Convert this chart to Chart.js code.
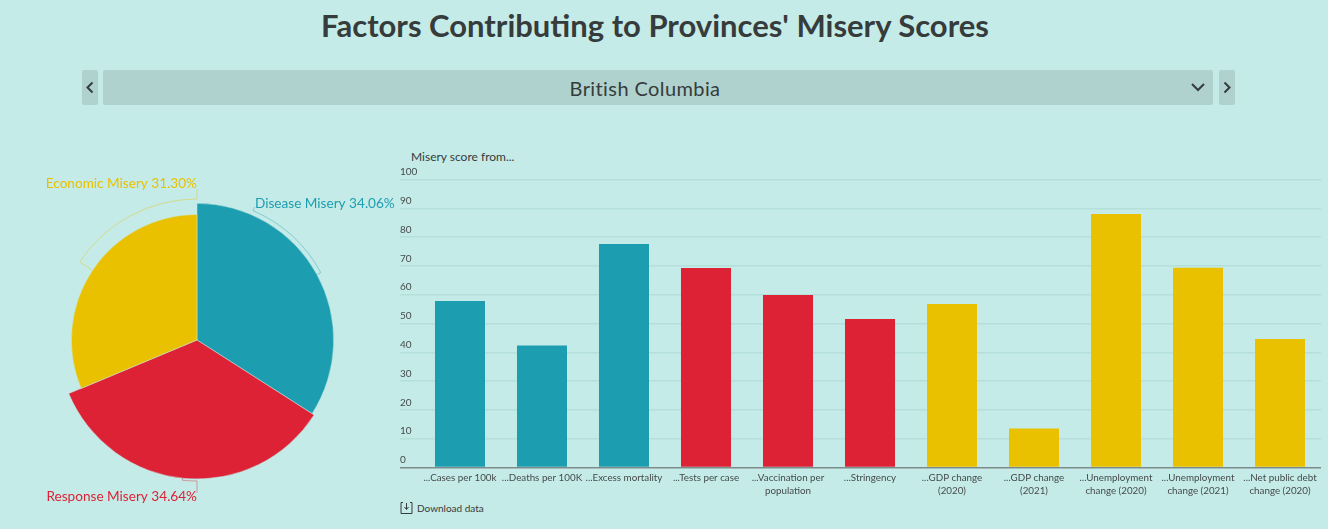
<!DOCTYPE html>
<html>
<head>
<meta charset="utf-8">
<title>Factors Contributing to Provinces' Misery Scores</title>
<script src="https://cdn.jsdelivr.net/npm/chart.js@4"></script>
<style>
    html, body { margin: 0; padding: 0; }
    body {
        position: relative;
        width: 1328px;
        height: 529px;
        overflow: hidden;
        background: #c4ebe7;
        color: #363b3b;
        font-family: Lato, sans-serif;
    }
    h1 {
        position: absolute;
        left: 0;
        top: 5px;
        width: 1310px;
        margin: 0;
        text-align: center;
        font-size: 31px;
        line-height: 40px;
        font-weight: 700;
    }
    .picker {
        position: absolute;
        top: 70px;
        height: 35px;
        background: #afd2cf;
        border-radius: 2px;
    }
    .picker svg { position: absolute; }
    #province {
        left: 103px;
        width: 1084px;
        padding-right: 26px;
        text-align: center;
        font-size: 20px;
        line-height: 36px;
        letter-spacing: 0.4px;
    }
    #prev { left: 82px; width: 16px; }
    #next { left: 1219px; width: 16px; }
    #pie { position: absolute; left: 0; top: 145px; }
    #bars { position: absolute; left: 400px; top: 160px; }
    #bars-title {
        position: absolute;
        left: 411px;
        top: 149px;
        font-size: 12px;
        line-height: 16px;
    }
    #download {
        position: absolute;
        left: 400px;
        top: 501px;
        font-size: 10px;
        line-height: 14px;
        padding-left: 17px;
    }
    #download svg { position: absolute; left: 0; top: 0; }
</style>
</head>
<body>
<h1>Factors Contributing to Provinces' Misery Scores</h1>
<div class="picker" id="prev"><svg width="16" height="35"><path d="M10.5 12.5 L5.5 17.5 L10.5 22.5" fill="none" stroke="#363b3b" stroke-width="2"/></svg></div>
<div class="picker" id="province">British Columbia<svg style="right:7px;top:0" width="16" height="35"><path d="M2 14 L8 20 L14 14" fill="none" stroke="#363b3b" stroke-width="2"/></svg></div>
<div class="picker" id="next"><svg width="16" height="35"><path d="M5.5 12.5 L10.5 17.5 L5.5 22.5" fill="none" stroke="#363b3b" stroke-width="2"/></svg></div>
<canvas id="pie" width="400" height="384"></canvas>
<div id="bars-title">Misery score from...</div>
<canvas id="bars" width="928" height="340"></canvas>
<div id="download"><svg width="14" height="14"><path d="M3 1.5 H1 V12.5 H12 V1.5 H10 M6.5 2 V8 M4.5 6 L6.5 8.5 L8.5 6" fill="none" stroke="#363b3b" stroke-width="1"/></svg>Download data</div>
<script>
    const FONT = 'Lato, sans-serif';
    const TEAL = '#1d9db0';
    const RED = '#dd2236';
    const YELLOW = '#e9c100';
    const GRID = '#b4dfda';
    const AXIS = '#7d8c8b';

    const groupNames = ['Disease Misery', 'Response Misery', 'Economic Misery'];
    const groupShares = [34.06, 34.64, 31.30];
    const groupColors = [TEAL, RED, YELLOW];

    const barLabels = [
        '...Cases per 100k',
        '...Deaths per 100K',
        '...Excess mortality',
        '...Tests per case',
        ['...Vaccination per', 'population'],
        '...Stringency',
        ['...GDP change', '(2020)'],
        ['...GDP change', '(2021)'],
        ['...Unemployment', 'change (2020)'],
        ['...Unemployment', 'change (2021)'],
        ['...Net public debt', 'change (2020)'],
    ];
    const barValues = [57.8, 42.4, 77.6, 69.3, 59.9, 51.6, 56.8, 13.5, 88.0, 69.4, 44.6];
    const barGroups = [0, 0, 0, 1, 1, 1, 2, 2, 2, 2, 2];
    const yTicks = [0, 10, 20, 30, 40, 50, 60, 70, 80, 90, 100];

    // Le staffe attorno alle fette: gradi in senso orario dalle 12, raggi in px dal centro
    const pieBrackets = [
        { from: 23.4, to: 61.4, radius: 141, tickFrom: 145, tickTo: 137 },
        { from: 180, to: 186, radius: 141, tickFrom: 153, tickTo: 139 },
        { from: 360, to: 303.7, radius: 141, tickFrom: 151, tickTo: 126 },
    ];
    const pieLabelSpots = [
        { dx: 58, dy: -136.5, align: 'left' },
        { dx: 0, dy: 157, align: 'right' },
        { dx: 0, dy: -156.5, align: 'right' },
    ];

    function polar(cx, cy, deg, r) {
        const a = (deg - 90) * Math.PI / 180;
        return [cx + Math.cos(a) * r, cy + Math.sin(a) * r];
    }

    const pieDecor = {
        id: 'pieDecor',
        afterDatasetsDraw: function (chart) {
            const ctx = chart.ctx;
            const cx = chart.scales.r.xCenter;
            const cy = chart.scales.r.yCenter;
            ctx.save();
            groupNames.forEach(function (name, i) {
                const b = pieBrackets[i];
                const s = pieLabelSpots[i];
                ctx.globalAlpha = 0.4;
                ctx.strokeStyle = groupColors[i];
                ctx.lineWidth = 1;
                ctx.beginPath();
                ctx.moveTo.apply(ctx, polar(cx, cy, b.from, b.tickFrom));
                ctx.lineTo.apply(ctx, polar(cx, cy, b.from, b.radius));
                const a0 = (b.from - 90) * Math.PI / 180;
                const a1 = (b.to - 90) * Math.PI / 180;
                ctx.arc(cx, cy, b.radius, a0, a1, b.to < b.from);
                ctx.lineTo.apply(ctx, polar(cx, cy, b.to, b.tickTo));
                ctx.stroke();
                ctx.globalAlpha = 1;
                ctx.fillStyle = groupColors[i];
                ctx.font = '13.6px ' + FONT;
                ctx.textAlign = s.align;
                ctx.textBaseline = 'middle';
                ctx.fillText(name + ' ' + groupShares[i].toFixed(2) + '%', cx + s.dx, cy + s.dy);
            });
            ctx.restore();
        },
    };

    new Chart(document.getElementById('pie').getContext('2d'), {
        type: 'polarArea',
        data: {
            labels: groupNames,
            datasets: [
                {
                    data: groupShares,
                    backgroundColor: groupColors,
                    borderColor: '#c4ebe7',
                    borderWidth: 0.5,
                    angle: function (c) {
                        return groupShares[c.dataIndex] * 3.6;
                    },
                },
            ],
        },
        options: {
            responsive: false,
            animation: false,
            layout: { padding: { left: 58, right: 64, top: 56, bottom: 50 } },
            plugins: { legend: { display: false }, tooltip: { enabled: false } },
            scales: {
                r: { display: false, min: 0, max: Math.max.apply(null, groupShares) },
            },
        },
        plugins: [pieDecor],
    });

    new Chart(document.getElementById('bars').getContext('2d'), {
        type: 'bar',
        data: {
            labels: barLabels,
            datasets: [
                {
                    data: barValues,
                    backgroundColor: barGroups.map(function (g) {
                        return groupColors[g];
                    }),
                    barPercentage: 0.61,
                    categoryPercentage: 1,
                },
            ],
        },
        options: {
            responsive: false,
            animation: false,
            layout: { padding: { top: 19.5, right: 7, left: 0, bottom: 0 } },
            plugins: { legend: { display: false }, tooltip: { enabled: false } },
            scales: {
                x: {
                    grid: { display: false, drawTicks: false },
                    border: { display: false },
                    afterFit: function (scale) {
                        scale.height = 32.5;
                    },
                    ticks: {
                        color: '#454b4b',
                        font: { family: FONT, size: 9.8, lineHeight: 1.4 },
                        maxRotation: 0,
                        autoSkip: false,
                        padding: 3,
                    },
                },
                y: {
                    min: 0,
                    max: 100,
                    afterFit: function (scale) {
                        scale.width = 19;
                    },
                    afterBuildTicks: function (scale) {
                        scale.ticks = yTicks.map(function (v) {
                            return { value: v };
                        });
                    },
                    border: { display: false },
                    grid: {
                        tickLength: 19,
                        lineWidth: 1.5,
                        color: function (c) {
                            return c.tick.value === 0 ? AXIS : GRID;
                        },
                        tickColor: function (c) {
                            return c.tick.value === 0 ? AXIS : GRID;
                        },
                    },
                    ticks: {
                        color: '#454b4b',
                        crossAlign: 'far',
                        padding: 0,
                        autoSkip: false,
                        font: { family: FONT, size: 10, lineHeight: 1.5 },
                        // La riga vuota alza il numero sopra la griglia
                        callback: function (v) {
                            return [String(v), ''];
                        },
                    },
                },
            },
        },
    });
</script>
</body>
</html>
